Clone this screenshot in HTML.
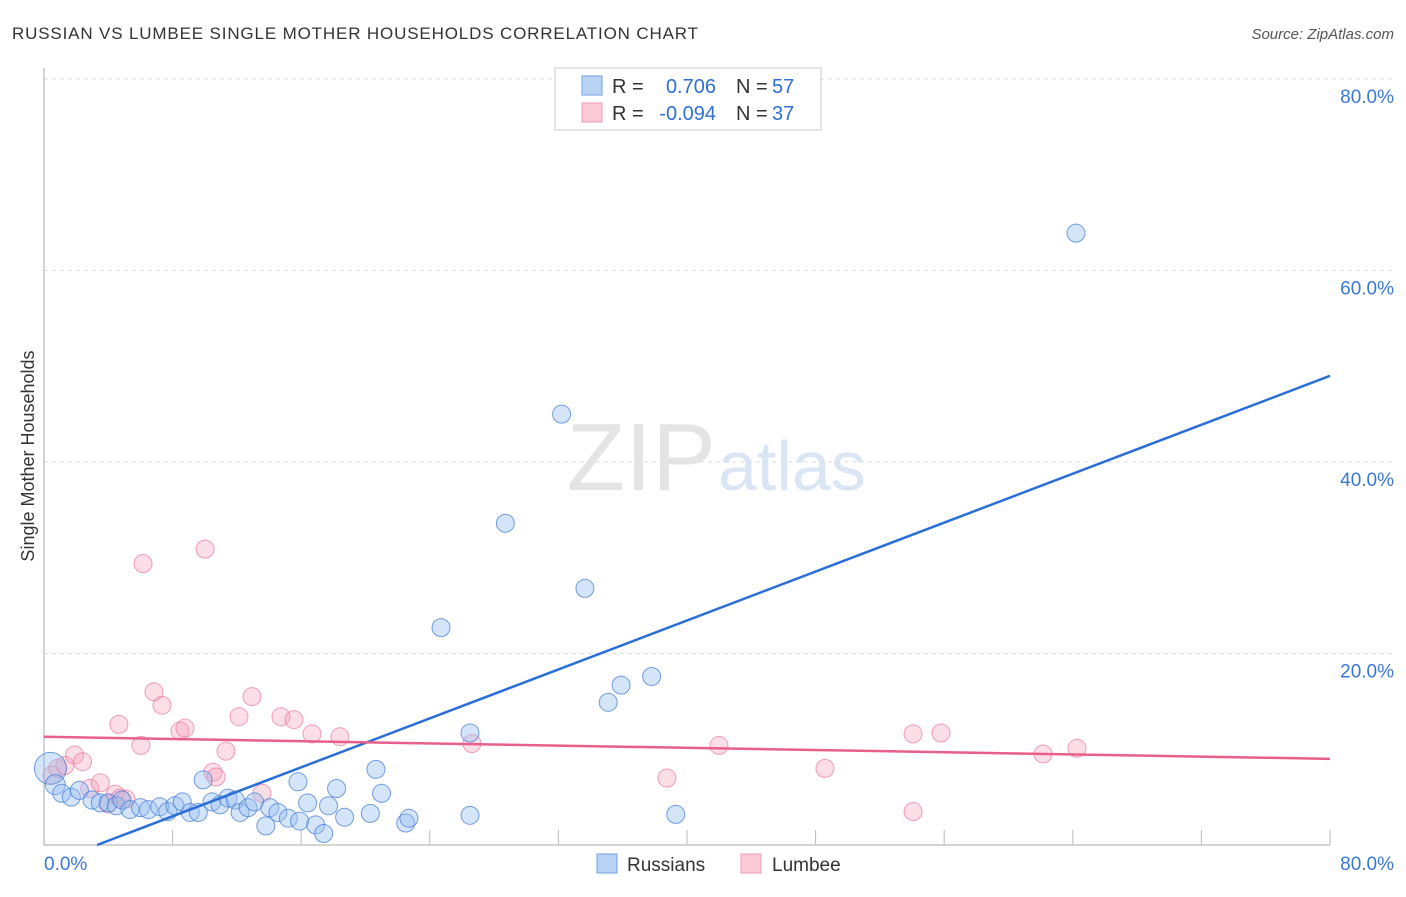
<!DOCTYPE html>
<html><head><meta charset="utf-8"><style>
body{margin:0;background:#fff;font-family:"Liberation Sans",sans-serif}
svg text{font-family:"Liberation Sans",sans-serif}
</style></head><body>
<svg id="c" width="1406" height="892">
<text x="12" y="39" font-size="17" fill="#333" textLength="686" lengthAdjust="spacing">RUSSIAN VS LUMBEE SINGLE MOTHER HOUSEHOLDS CORRELATION CHART</text>
<text x="1394" y="39" font-size="15" fill="#555" font-style="italic" text-anchor="end">Source: ZipAtlas.com</text>
<text x="34" y="456" font-size="18" fill="#333" text-anchor="middle" transform="rotate(-90 34 456)">Single Mother Households</text>
<text x="716" y="490" font-size="96" fill="#e4e4e4" text-anchor="end" font-family="Liberation Serif">ZIP</text>
<text x="718" y="490" font-size="70" fill="#dbe6f5">atlas</text>
<g id="grid"></g><g id="pts"></g><g id="lines"></g>
<g>
<rect x="555" y="68" width="266" height="62" fill="#fff" stroke="#ccc"/>
<rect x="582" y="76" width="20" height="19" fill="#b9d3f5" stroke="#6fa0e6"/>
<rect x="582" y="103" width="20" height="19" fill="#fbc9d8" stroke="#f09ab5"/>
<text x="612" y="93" font-size="20" fill="#333">R =</text>
<text x="716" y="93" font-size="20" fill="#2f6fd6" text-anchor="end">0.706</text>
<text x="736" y="93" font-size="20" fill="#333">N =</text>
<text x="772" y="93" font-size="20" fill="#2f6fd6">57</text>
<text x="612" y="120" font-size="20" fill="#333">R =</text>
<text x="716" y="120" font-size="20" fill="#2f6fd6" text-anchor="end">-0.094</text>
<text x="736" y="120" font-size="20" fill="#333">N =</text>
<text x="772" y="120" font-size="20" fill="#2f6fd6">37</text>
</g>
<g>
<rect x="597" y="854" width="20" height="19" fill="#b9d3f5" stroke="#6fa0e6"/>
<text x="627" y="871" font-size="19" fill="#333">Russians</text>
<rect x="741" y="854" width="20" height="19" fill="#fbc9d8" stroke="#f09ab5"/>
<text x="772" y="871" font-size="19" fill="#333">Lumbee</text>
</g>
</svg>
<script>
const yTicks=[20,40,60,80];
const xTickLabels=["0.0%","80.0%"];
const russX=[0.4,0.7,1.1,1.7,2.2,2.99,3.5,4.0,4.5,4.85,5.35,6.0,6.5,7.2,7.7,8.15,8.6,9.1,9.6,9.9,10.45,10.95,11.45,11.9,12.2,12.7,13.1,13.8,14.05,14.55,15.2,15.8,15.9,16.4,16.9,17.4,17.7,18.2,18.7,20.3,20.65,21.0,22.5,22.7,24.7,26.5,26.5,28.7,32.2,33.65,35.1,35.9,37.8,39.3,64.2];
const russY=[8.0,6.3,5.4,5.0,5.7,4.7,4.4,4.4,4.1,4.7,3.7,3.9,3.7,4.0,3.5,4.1,4.5,3.4,3.4,6.8,4.5,4.2,4.9,4.7,3.4,3.9,4.5,2.0,3.9,3.4,2.8,6.6,2.5,4.4,2.1,1.2,4.1,5.9,2.9,3.3,7.9,5.4,2.3,2.8,22.7,11.7,3.1,33.6,45.0,26.8,14.9,16.7,17.6,3.2,63.9];
const lumbX=[0.5,0.85,1.3,1.9,2.4,2.85,3.5,3.99,4.43,4.73,5.1,4.66,6.03,6.16,6.84,7.34,8.46,8.77,10.02,10.5,10.7,11.32,12.13,12.94,13.56,14.74,15.55,16.67,18.41,26.62,38.75,41.99,48.58,54.06,54.06,55.8,62.15,64.26];
const lumbY=[7.3,8.0,8.3,9.4,8.7,5.9,6.5,4.3,5.3,4.9,4.8,12.6,10.4,29.4,16.0,14.6,11.9,12.2,30.9,7.6,7.1,9.8,13.4,15.5,5.4,13.4,13.1,11.6,11.3,10.6,7.0,10.4,8.0,3.5,11.6,11.7,9.5,10.1];
const russR=[16,10,9,9,9,9,9,9,9,9,9,9,9,9,9,9,9,9,9,9,9,9,9,9,9,9,9,9,9,9,9,9,9,9,9,9,9,9,9,9,9,9,9,9,9,9,9,9,9,9,9,9,9,9,9];
const russTrend=[3.3,0,80,49];
const lumbTrend=[0,11.3,80,9.0];
const X=v=>44+v*16.075, Y=v=>845-v*9.575;
const NS="http://www.w3.org/2000/svg";
function mk(t,a,p){const e=document.createElementNS(NS,t);for(const k in a)e.setAttribute(k,a[k]);p.appendChild(e);return e;}
const g=document.getElementById('grid');
for(const t of yTicks){
 const l=mk('line',{x1:44,x2:1394,y1:Y(t),y2:Y(t),stroke:'#ddd','stroke-dasharray':'4,4'},g);
 
 
 const tx=mk('text',{x:1394,y:Y(t)+24,'font-size':19,fill:'#3a78d8','text-anchor':'end'},g);tx.textContent=t.toFixed(1)+'%';
 
 
}
const ax=mk('path',{d:'M44 68V845H1330',stroke:'#aaa',fill:'none'},g);


for(let i=1;i<=10;i++){const x=X(i*8);const t=mk('line',{x1:x,x2:x,y1:830,y2:845,stroke:'#bbb'},g);
 
 }
const x0=mk('text',{x:44,y:870,'font-size':19,fill:'#3a78d8'},g);x0.textContent=xTickLabels[0];


const x1=mk('text',{x:1394,y:870,'font-size':19,fill:'#3a78d8','text-anchor':'end'},g);x1.textContent=xTickLabels[1];


const p=document.getElementById('pts');
lumbX.forEach((v,i)=>{const c=mk('circle',{cx:X(v),cy:Y(lumbY[i]),r:9,fill:'rgba(246,160,187,0.35)',stroke:'rgba(235,120,155,0.7)'},p);
 
 });
russX.forEach((v,i)=>{const c=mk('circle',{cx:X(v),cy:Y(russY[i]),r:russR[i]||9,fill:'rgba(150,190,240,0.4)',stroke:'rgba(60,120,215,0.7)'},p);
 
 });
const L=document.getElementById('lines');
const a=mk('line',{x1:X(russTrend[0]),y1:Y(russTrend[1]),x2:X(russTrend[2]),y2:Y(russTrend[3]),stroke:'#2a6fd8','stroke-width':2.5},L);


const b=mk('line',{x1:X(lumbTrend[0]),y1:Y(lumbTrend[1]),x2:X(lumbTrend[2]),y2:Y(lumbTrend[3]),stroke:'#e8608a','stroke-width':2.5},L);


</script>
</body></html>
